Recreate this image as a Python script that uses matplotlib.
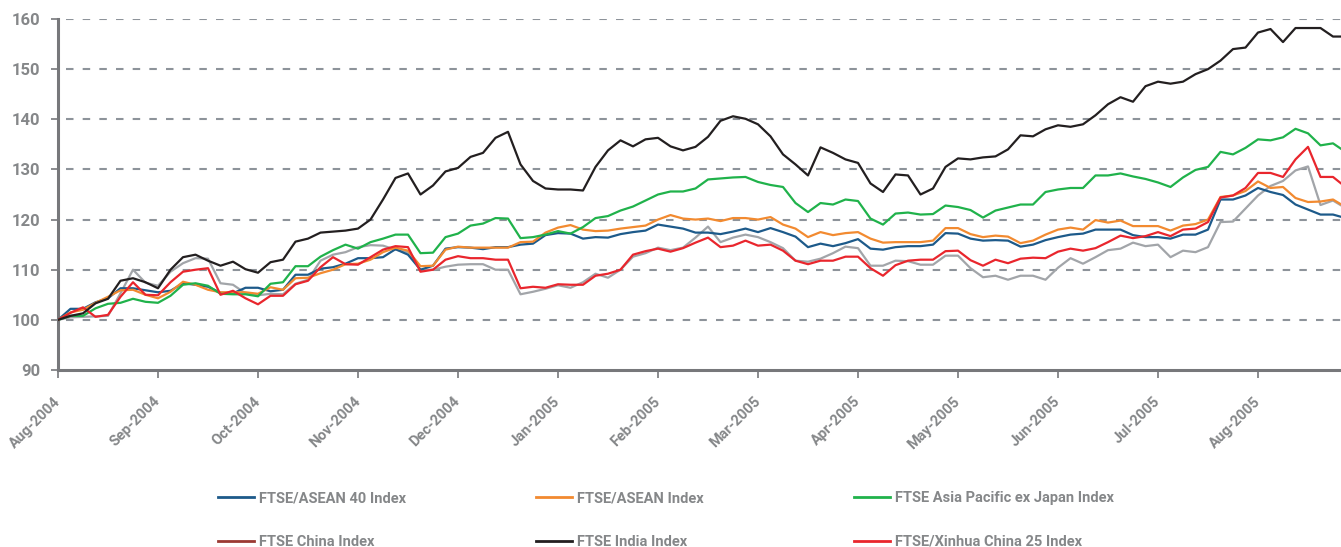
import numpy as np
import matplotlib
matplotlib.use("Agg")
import matplotlib.pyplot as plt
from matplotlib.lines import Line2D

months = ["Aug-2004", "Sep-2004", "Oct-2004", "Nov-2004", "Dec-2004", "Jan-2005",
          "Feb-2005", "Mar-2005", "Apr-2005", "May-2005", "Jun-2005", "Jul-2005", "Aug-2005"]

asean40 = [100, 102.2, 102.2, 103.5, 104.3, 106.3, 106.3, 105.9, 105.5, 105.8,
           107.3, 107, 106.6, 105.4, 105.3, 106.4, 106.4, 105.7, 106, 109,
           109, 110.2, 110.5, 111.2, 112.3, 112.3, 112.5, 114.1, 113, 110,
           110.8, 114.2, 114.5, 114.4, 114.1, 114.5, 114.5, 115, 115.2, 116.9,
           117.3, 117.2, 116.2, 116.5, 116.4, 117.1, 117.5, 117.8, 119, 118.6,
           118.2, 117.4, 117.4, 117.1, 117.6, 118.2, 117.5, 118.3, 117.5, 116.6,
           114.5, 115.2, 114.7, 115.3, 116.1, 114.2, 114, 114.5, 114.7, 114.7,
           115, 117.3, 117.2, 116.2, 115.8, 115.9, 115.8, 114.6, 115, 115.9,
           116.5, 117, 117.2, 118, 118, 118, 116.9, 116.5, 116.5, 116.2,
           117, 117, 118, 124, 124, 124.8, 126.3, 125.5, 124.9, 123,
           122, 121, 121, 120.3]

asean = [100, 101.5, 102, 103.4, 104.6, 105.9, 106, 105, 104.3, 105.6,
         107.6, 107, 106, 105.5, 105.5, 105.5, 105.2, 106.5, 106, 108.3,
         108.4, 109.3, 110, 111.1, 111.2, 112, 113.5, 114.4, 113.8, 110.7,
         110.8, 114, 114.6, 114.4, 114.4, 114.4, 114.4, 115.5, 115.6, 117.4,
         118.4, 118.9, 118, 117.7, 117.8, 118.2, 118.5, 118.8, 120, 120.9,
         120.2, 120, 120.2, 119.7, 120.3, 120.3, 120, 120.5, 119, 118.2,
         116.5, 117.5, 116.9, 117.3, 117.5, 116.2, 115.4, 115.5, 115.5, 115.5,
         115.8, 118.3, 118.3, 117.1, 116.5, 116.8, 116.6, 115.3, 115.8, 117,
         118, 118.4, 118, 119.9, 119.4, 119.8, 118.7, 118.7, 118.7, 117.8,
         118.8, 119.1, 120, 124.5, 124.8, 125.7, 127.6, 126.3, 126.5, 124.3,
         123.5, 123.6, 124, 122.5]

asia_pac = [100, 100.8, 100.8, 102.3, 103.2, 103.4, 104.2, 103.6, 103.4, 104.8,
            107, 107.3, 106.8, 105.2, 105.1, 105.1, 104.7, 107.2, 107.5, 110.7,
            110.7, 112.6, 113.9, 115, 114.2, 115.5, 116.2, 117, 117, 113.3,
            113.4, 116.5, 117.2, 118.8, 119.2, 120.3, 120.2, 116.3, 116.5, 117,
            117.7, 117.2, 118.5, 120.3, 120.7, 121.8, 122.6, 123.8, 125, 125.6,
            125.6, 126.2, 128, 128.2, 128.4, 128.5, 127.5, 126.9, 126.5, 123.3,
            121.5, 123.3, 123, 124, 123.7, 120.2, 119, 121.2, 121.4, 121,
            121.1, 122.8, 122.5, 121.9, 120.4, 121.8, 122.4, 123, 123, 125.5,
            126, 126.3, 126.3, 128.8, 128.8, 129.2, 128.6, 128.1, 127.4, 126.5,
            128.4, 129.9, 130.5, 133.5, 133, 134.3, 136, 135.8, 136.4, 138.1,
            137.2, 134.8, 135.2, 133.5]

china = [100, 100.5, 100.6, 100.7, 100.8, 105.3, 110, 107.4, 106.8, 109.6,
         111.3, 112.3, 112.2, 107.3, 107, 105.3, 104.9, 105.2, 105.1, 107.2,
         108, 111.8, 113, 113.5, 114.5, 114.9, 114.8, 114, 113.5, 110,
         110, 110.6, 111, 111.1, 111.1, 110, 110, 105.1, 105.6, 106.2,
         106.9, 106.4, 107.5, 109.2, 108.4, 110, 112.6, 113.3, 114.4, 113.9,
         114.4, 116.4, 118.6, 115.5, 116.4, 117, 116.5, 115.5, 114.3, 111.8,
         111.6, 112.2, 113.3, 114.6, 114.3, 110.8, 110.8, 111.8, 111.7, 111,
         111, 112.8, 112.8, 110.3, 108.5, 108.8, 108, 108.8, 108.8, 108,
         110.4, 112.3, 111.2, 112.5, 113.9, 114.2, 115.4, 114.7, 115, 112.5,
         113.8, 113.5, 114.5, 119.5, 119.6, 122.2, 124.8, 126.7, 127.7, 129.8,
         130.6, 122.9, 123.8, 122.3]

india = [100, 100.8, 101.3, 103.3, 104.2, 107.8, 108.3, 107.5, 106.3, 110,
         112.5, 113, 111.8, 110.8, 111.6, 110.1, 109.4, 111.5, 112, 115.6,
         116.2, 117.4, 117.6, 117.8, 118.2, 120, 124, 128.3, 129.2, 125,
         126.8, 129.6, 130.3, 132.5, 133.3, 136.3, 137.5, 131, 127.7, 126.2,
         126, 126, 125.8, 130.5, 133.8, 135.8, 134.6, 136, 136.3, 134.6,
         133.8, 134.5, 136.5, 139.7, 140.6, 140.1, 139, 136.6, 133, 131,
         128.8, 134.4, 133.3, 132, 131.3, 127.2, 125.5, 129, 128.8, 125,
         126.2, 130.5, 132.2, 132, 132.4, 132.6, 134, 136.8, 136.6, 138,
         138.8, 138.5, 139, 140.8, 143, 144.4, 143.5, 146.6, 147.5, 147.1,
         147.5, 149, 150, 151.7, 154, 154.3, 157.3, 158, 155.4, 158.2,
         158.2, 158.2, 156.5, 156.5]

xinhua = [100, 101.4, 102.5, 100.6, 101, 104.6, 107.5, 105, 104.9, 107.5,
          109.6, 110, 110.3, 105, 105.8, 104.3, 103.1, 104.8, 104.8, 107.1,
          107.8, 110.5, 112.5, 111.1, 111, 112.5, 114, 114.7, 114.5, 109.6,
          110, 112, 112.7, 112.3, 112.3, 112, 112, 106.3, 106.6, 106.4,
          107.1, 107, 107, 108.8, 109.2, 110, 113, 113.7, 114.2, 113.6,
          114.3, 115.4, 116.4, 114.5, 114.8, 115.8, 114.8, 115, 113.8, 111.8,
          111.1, 111.8, 111.8, 112.6, 112.6, 110.3, 108.8, 110.9, 111.8, 112,
          112, 113.7, 113.8, 111.9, 110.8, 112, 111.3, 112.2, 112.4, 112.3,
          113.6, 114.2, 113.8, 114.3, 115.5, 116.8, 116.3, 116.7, 117.5, 116.7,
          118, 118.2, 119.5, 124.4, 124.8, 126.3, 129.3, 129.3, 128.5, 132,
          134.5, 128.5, 128.5, 126.5]

labels = ["FTSE/ASEAN 40 Index", "FTSE/ASEAN Index", "FTSE Asia Pacific ex Japan Index",
          "FTSE China Index", "FTSE India Index", "FTSE/Xinhua China 25 Index"]

C_BLUE = "#1d5a8a"
C_ORANGE = "#f28a30"
C_GREEN = "#20b24b"
C_CHINA_LEG = "#9b3a33"
C_GREY = "#a2a5a9"
C_BLACK = "#231f20"
C_RED = "#e9262d"
TXT = "#858789"
AX = "#77787b"

plt.rcParams["font.family"] = ["Roboto", "DejaVu Sans"]

fig = plt.figure(figsize=(13.41, 5.47), dpi=100)
ax = fig.add_axes([58 / 1341, 1 - 370 / 547, 1 - 58 / 1341, (370 - 19) / 547])

n = len(india)
x = np.arange(n) / 8.0

lw = 1.6
ax.plot(x, china, color=C_GREY, lw=lw, zorder=3)
ax.plot(x, asean40, color=C_BLUE, lw=lw, zorder=4)
ax.plot(x, asean, color=C_ORANGE, lw=lw, zorder=4)
ax.plot(x, asia_pac, color=C_GREEN, lw=lw, zorder=4)
ax.plot(x, xinhua, color=C_RED, lw=lw, zorder=5)
ax.plot(x, india, color=C_BLACK, lw=lw, zorder=6)

ax.set_xlim(0, 12.83)
ax.set_ylim(90, 160)
ax.set_yticks(range(90, 161, 10))
ax.set_xticks(range(len(months)))
ax.set_xticklabels(months, rotation=45, ha="right", va="center",
                   rotation_mode="anchor")

for v in range(100, 161, 10):
    ax.axhline(v, xmin=0.006, xmax=1, color="#8d939a", lw=1.5, ls=(0, (3.6, 4.4)), zorder=1)

for s in ["top", "right"]:
    ax.spines[s].set_visible(False)
for s in ["left", "bottom"]:
    ax.spines[s].set_color(AX)
    ax.spines[s].set_linewidth(2.2)

ax.tick_params(axis="y", length=5, width=1.2, color=AX, pad=8, labelsize=12,
               labelcolor=TXT)
ax.tick_params(axis="x", length=6, width=1.2, color=AX, pad=15, labelsize=10.5,
               labelcolor=TXT)
for t in ax.get_yticklabels() + ax.get_xticklabels():
    t.set_fontweight("bold")

handles = [
    Line2D([], [], color=C_BLUE, lw=2),
    Line2D([], [], color=C_ORANGE, lw=2),
    Line2D([], [], color=C_GREEN, lw=2),
    Line2D([], [], color=C_CHINA_LEG, lw=2),
    Line2D([], [], color=C_BLACK, lw=2),
    Line2D([], [], color=C_RED, lw=2),
]
col_x = [218 / 1341, 536 / 1341, 854 / 1341]
for c in range(3):
    leg = fig.legend(handles=[handles[c], handles[c + 3]], labels=[labels[c], labels[c + 3]],
                     loc="center left", bbox_to_anchor=(col_x[c], 1 - 520 / 547),
                     frameon=False, borderpad=0, borderaxespad=0, handlelength=2.5,
                     handletextpad=0.3, labelspacing=2.05,
                     prop={"size": 10.5, "weight": "bold"})
    for t in leg.get_texts():
        t.set_color(TXT)

fig.savefig("out.png", dpi=100)
